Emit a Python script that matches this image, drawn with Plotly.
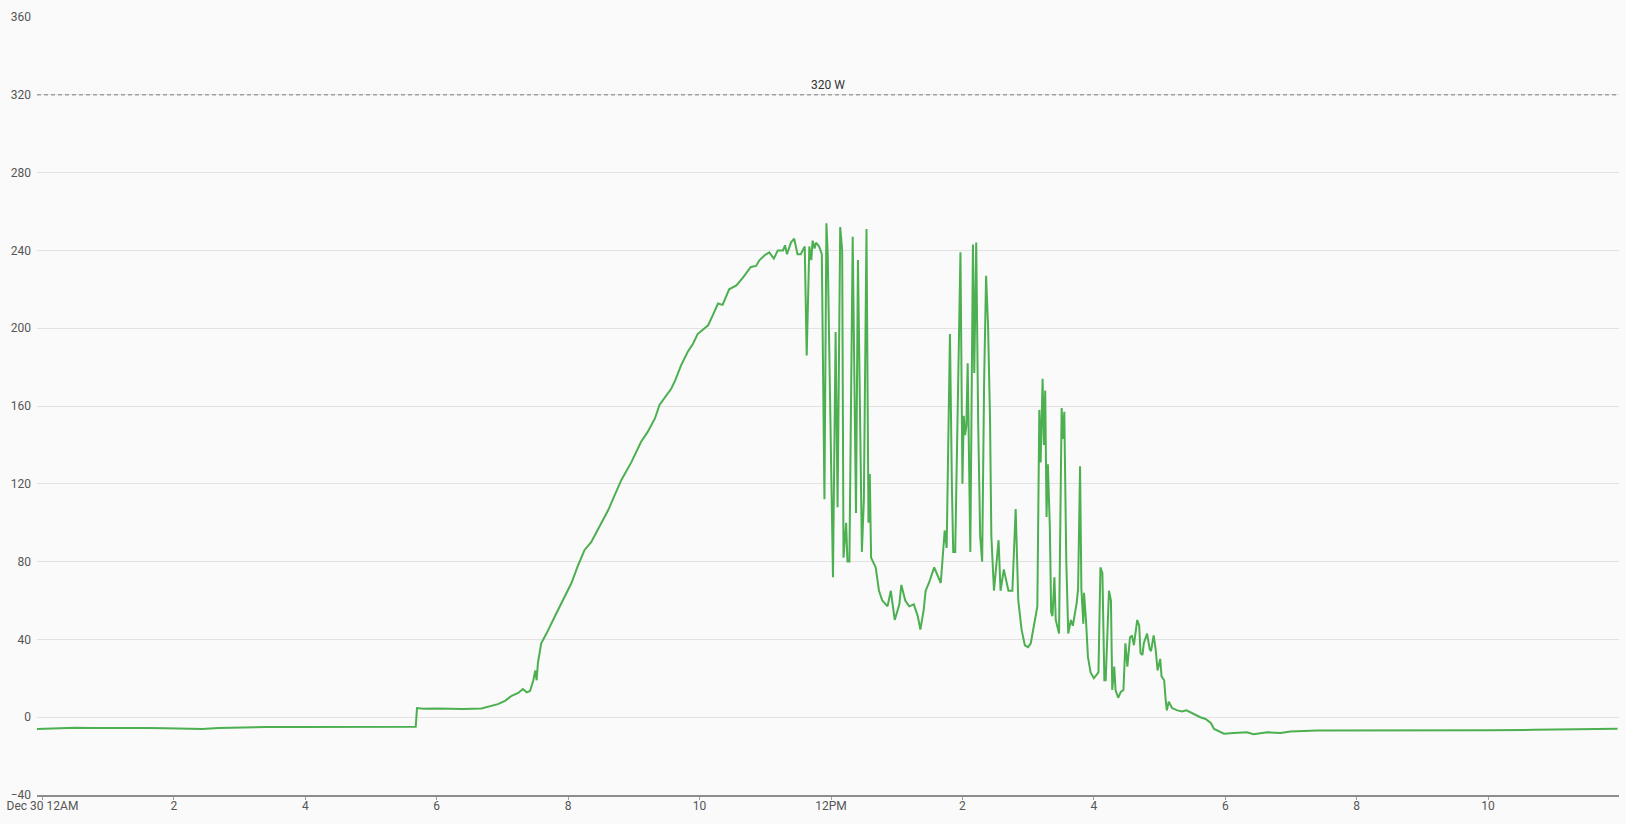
import plotly.graph_objects as go
from datetime import datetime, timedelta

# ---- data (hours after Dec 30 00:00, watts) ----
hours = [
    -0.083, 0.25, 0.5, 0.75, 1.0, 1.35, 1.6, 1.87, 2.12, 2.43, 2.68, 3.0, 3.4, 3.8, 4.4, 5.0, 5.41, 5.68,
    5.70, 5.8, 6.0, 6.17, 6.4, 6.68, 6.78, 6.93, 7.04, 7.14, 7.24, 7.31, 7.37, 7.42, 7.47, 7.50, 7.52, 7.54,
    7.59, 7.67, 7.80, 7.95, 8.05, 8.15, 8.25, 8.35, 8.48, 8.61, 8.68, 8.81, 8.96, 9.11, 9.21, 9.32, 9.39,
    9.49, 9.57, 9.63, 9.72, 9.82, 9.90, 9.97, 10.13, 10.20, 10.28, 10.35, 10.45, 10.56, 10.66, 10.78, 10.86,
    10.91, 10.99, 11.06, 11.13, 11.19, 11.27, 11.30, 11.33, 11.39, 11.44, 11.49, 11.54, 11.60, 11.63, 11.67,
    11.70, 11.72, 11.75, 11.77, 11.82, 11.86, 11.90, 11.93, 11.95, 11.98, 12.03, 12.07, 12.10, 12.14, 12.17,
    12.19, 12.23, 12.25, 12.28, 12.33, 12.38, 12.41, 12.47, 12.50, 12.54, 12.57, 12.59, 12.61, 12.68, 12.73,
    12.78, 12.86, 12.91, 12.97, 13.04, 13.07, 13.13, 13.19, 13.26, 13.32, 13.36, 13.41, 13.44, 13.49, 13.57,
    13.67, 13.73, 13.76, 13.81, 13.84, 13.86, 13.89, 13.97, 14.00, 14.02, 14.04, 14.06, 14.08, 14.12, 14.16,
    14.18, 14.21, 14.24, 14.27, 14.30, 14.33, 14.36, 14.39, 14.42, 14.44, 14.48, 14.55, 14.58, 14.63, 14.70,
    14.76, 14.81, 14.85, 14.90, 14.95, 15.00, 15.04, 15.10, 15.14, 15.17, 15.19, 15.22, 15.24, 15.26, 15.28,
    15.30, 15.33, 15.35, 15.37, 15.40, 15.42, 15.47, 15.51, 15.53, 15.55, 15.58, 15.61, 15.65, 15.68, 15.74,
    15.76, 15.79, 15.81, 15.84, 15.85, 15.88, 15.91, 15.95, 16.00, 16.07, 16.10, 16.13, 16.16, 16.18, 16.23,
    16.26, 16.28, 16.31, 16.33, 16.37, 16.41, 16.45, 16.48, 16.51, 16.55, 16.58, 16.61, 16.66, 16.69, 16.71,
    16.74, 16.76, 16.81, 16.85, 16.87, 16.91, 16.94, 16.97, 17.01, 17.03, 17.07, 17.09, 17.11, 17.14, 17.19,
    17.27, 17.34, 17.41, 17.47, 17.55, 17.62, 17.70, 17.78, 17.83, 17.90, 17.98, 18.13, 18.33, 18.43, 18.64,
    18.84, 18.99, 19.40, 19.90, 20.41, 20.92, 21.42, 22.0, 22.7, 23.3, 23.97,
]
watts = [
    -6.1, -5.6, -5.4, -5.6, -5.5, -5.7, -5.5, -5.7, -5.9, -6.1, -5.6, -5.3, -5.0, -5.0, -4.9, -4.9, -4.9, -4.9,
    4.7, 4.4, 4.5, 4.3, 4.2, 4.5, 5.5, 6.7, 8.4, 11.0, 12.5, 14.5, 12.8, 13.5, 19.0, 24.0, 19.0, 28.0,
    38.0, 43.0, 52.0, 62.0, 69.0, 78.0, 86.0, 90.0, 98.0, 106.5, 112.0, 122.0, 131.0, 141.6, 146.7, 153.6, 160.5,
    165.6, 169.0, 173.3, 181.0, 187.9, 192.0, 197.0, 201.5, 206.6, 212.7, 212.0, 220.0, 222.0, 226.0, 231.5, 232.0,
    234.9, 237.5, 239.0, 235.8, 240.0, 240.0, 242.6, 238.0, 244.0, 246.0, 238.0, 238.0, 242.0, 186.0, 242.0,
    235.0, 245.0, 241.0, 244.0, 242.0, 238.0, 112.0, 254.0, 238.0, 175.0, 72.0, 198.0, 108.0, 252.0, 240.0,
    82.0, 100.0, 80.0, 80.0, 247.0, 105.0, 235.0, 85.0, 112.0, 251.0, 100.0, 125.0, 82.0, 77.0, 65.0,
    60.0, 57.0, 65.0, 50.0, 58.0, 68.0, 60.0, 57.0, 58.0, 52.0, 45.0, 55.0, 65.0, 69.0, 77.0,
    69.0, 96.0, 87.0, 197.0, 118.0, 85.0, 85.0, 239.0, 120.0, 155.0, 145.0, 150.0, 182.0, 85.0, 243.0,
    177.0, 244.0, 150.0, 93.0, 80.0, 172.0, 227.0, 201.0, 153.0, 93.0, 65.0, 91.0, 65.0, 76.0, 65.0,
    65.0, 107.0, 60.0, 45.0, 37.0, 36.0, 38.0, 50.0, 57.0, 158.0, 131.0, 174.0, 140.0, 168.0, 103.0,
    130.0, 98.0, 54.0, 52.0, 72.0, 50.0, 43.0, 159.0, 143.0, 157.0, 81.0, 43.0, 50.0, 47.0, 59.0,
    66.0, 129.0, 66.0, 48.0, 64.0, 50.0, 31.0, 23.0, 20.0, 23.0, 77.0, 74.0, 19.0, 19.0, 65.0,
    60.0, 14.0, 26.0, 14.0, 10.0, 13.0, 14.0, 38.0, 26.0, 41.0, 42.0, 37.0, 50.0, 47.0, 33.0,
    32.0, 38.0, 43.0, 35.0, 34.0, 42.0, 35.0, 24.0, 30.0, 21.0, 19.0, 10.0, 3.5, 8.0, 4.7,
    3.5, 3.0, 3.5, 2.4, 1.3, 0.0, -0.9, -3.0, -6.0, -7.3, -8.5, -8.1, -7.8, -8.7, -7.8,
    -8.1, -7.3, -6.9, -6.9, -6.9, -6.8, -6.9, -6.7, -6.5, -6.3, -6.0,
]
tick_hours = [0, 2, 4, 6, 8, 10, 12, 14, 16, 18, 20, 22]
tick_labels = ["Dec 30 12AM", "2", "4", "6", "8", "10", "12PM", "2", "4", "6", "8", "10"]
y_ticks = [-40, 0, 40, 80, 120, 160, 200, 240, 280, 320, 360]
limit_w = 320
limit_label = "320 W"

base = datetime(2023, 12, 30)
xs = [base + timedelta(hours=h) for h in hours]
tvals = [base + timedelta(hours=h) for h in tick_hours]

fig = go.Figure()
fig.add_trace(go.Scatter(x=xs, y=watts, mode="lines",
                         line=dict(color="#4caf50", width=2), hoverinfo="skip"))

fig.add_shape(type="line", xref="paper", x0=0, x1=1, yref="y", y0=limit_w, y1=limit_w,
              line=dict(color="#a0a0a0", width=1.5, dash="4px,3px"))
fig.add_annotation(xref="paper", x=0.5, yref="y", y=limit_w, text=limit_label,
                   showarrow=False, yanchor="bottom", yshift=1,
                   font=dict(family="Roboto", size=12, color="#333333"))

fig.update_layout(
    width=1626, height=824,
    margin=dict(l=35, r=7, t=17, b=29),
    paper_bgcolor="#fafafa", plot_bgcolor="#fafafa",
    showlegend=False,
    font=dict(family="Roboto", size=12, color="#555555"),
)
fig.update_xaxes(
    type="date",
    range=[base - timedelta(minutes=5), base + timedelta(hours=23, minutes=59, seconds=30)],
    tickvals=tvals, ticktext=tick_labels,
    showgrid=False, zeroline=False,
    showline=True, linecolor="#8c8c8c", linewidth=2,
    ticks="outside", ticklen=3, tickcolor="#9e9e9e", tickwidth=1,
    ticklabelstandoff=-4,
    tickfont=dict(family="Roboto", size=12, color="#555555"),
)
fig.update_yaxes(
    range=[-40, 360], tickvals=y_ticks,
    showgrid=True, gridcolor="#e2e2e2", gridwidth=1,
    zeroline=False, showline=False, ticks="",
    ticklabelstandoff=5,
    tickfont=dict(family="Roboto", size=12, color="#555555"),
)

fig.write_html("out.html", include_plotlyjs=True, config={"displayModeBar": False},
               post_script="document.body.style.margin='0';document.body.style.overflow='hidden';")
